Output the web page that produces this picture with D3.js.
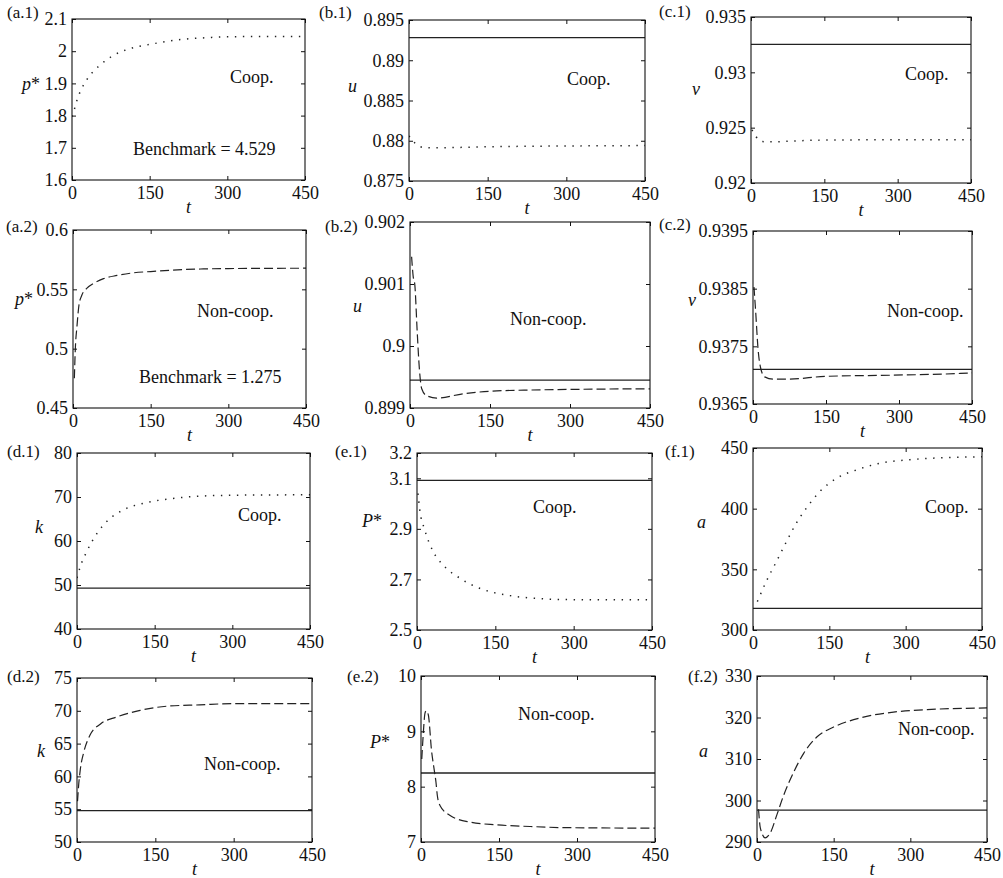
<!DOCTYPE html>
<html><head><meta charset="utf-8">
<script src="https://cdn.jsdelivr.net/npm/d3@7"></script>
<style>
body{margin:0;background:#fff}
svg{display:block}
</style>
</head><body>
<svg id="chart" width="1003" height="878" style="font-family:'Liberation Serif','Times New Roman',Tinos,'DejaVu Serif',serif"></svg>
<script>
// ---------------- DATA ----------------
const xTicks = [0, 150, 300, 450];

// (a.1) p* cooperative
const tA1 = [0, 3, 6, 10, 19, 30, 55, 80, 110, 150, 209, 260, 300, 450];
const pA1 = [1.797, 1.81, 1.828, 1.85, 1.885, 1.915, 1.958, 1.987, 2.007, 2.021, 2.036, 2.042, 2.045, 2.046];
const ticksA1 = [1.6, 1.7, 1.8, 1.9, 2, 2.1];
const benchTextA1 = "Benchmark = 4.529";

// (b.1) u cooperative
const tB1 = [0, 5, 10, 20, 30, 50, 80, 150, 300, 450];
const uB1 = [0.8806, 0.8802, 0.8798, 0.8793, 0.87915, 0.87912, 0.87915, 0.87925, 0.87935, 0.8794];
const benchB1 = 0.8928;
const ticksB1 = [0.875, 0.88, 0.885, 0.89, 0.895];

// (c.1) v cooperative
const tC1 = [2, 10, 24, 40, 60, 100, 150, 250, 350, 450];
const vC1 = [0.9248, 0.9242, 0.92374, 0.92372, 0.92374, 0.92382, 0.92388, 0.9239, 0.9239, 0.9239];
const benchC1 = 0.93253;
const ticksC1 = [0.92, 0.925, 0.93, 0.935];

// (a.2) p* non-cooperative
const tA2 = [2.6, 4.5, 7.7, 11.6, 17, 27, 40, 59, 85, 117, 150, 214, 252, 300, 450];
const pA2 = [0.475, 0.5, 0.519, 0.537, 0.545, 0.551, 0.555, 0.559, 0.5617, 0.5639, 0.565, 0.5667, 0.5672, 0.5675, 0.5678];
const ticksA2 = [0.45, 0.5, 0.55, 0.6];
const benchTextA2 = "Benchmark = 1.275";

// (b.2) u non-cooperative
const tB2 = [3, 6, 9, 13.5, 17.5, 22, 31, 50, 100, 150, 225, 300, 450];
const uB2 = [0.90144, 0.90112, 0.90099, 0.90023, 0.89964, 0.89931, 0.8992, 0.89916, 0.89923, 0.89927, 0.89929, 0.8993, 0.89931];
const benchB2 = 0.89945;
const ticksB2 = [0.899, 0.9, 0.901, 0.902];

// (c.2) v non-cooperative
const tC2 = [2, 5.5, 10.3, 15.8, 24, 41, 69, 151, 288, 426, 450];
const vC2 = [0.93853, 0.9381, 0.93746, 0.93712, 0.93697, 0.93693, 0.93693, 0.93698, 0.937, 0.93703, 0.93704];
const benchC2 = 0.9371;
const ticksC2 = [0.9365, 0.9375, 0.9385, 0.9395];

// (d.1) k cooperative
const tD1 = [0, 6.4, 19, 39, 58, 90, 129, 174, 238, 302, 450];
const kD1 = [51.6, 54.2, 57.65, 61.8, 64.5, 67.1, 68.6, 69.5, 70.2, 70.4, 70.5];
const benchD1 = 49.3;
const ticksD1 = [40, 50, 60, 70, 80];

// (e.1) P* cooperative
const tE1 = [2, 5, 15, 31, 50, 82, 120, 172, 229, 300, 450];
const PE1 = [3.04, 2.98, 2.895, 2.81, 2.757, 2.705, 2.665, 2.638, 2.625, 2.62, 2.62];
const benchE1 = 3.092;
const ticksE1 = [2.5, 2.7, 2.9, 3.1, 3.2];

// (f.1) a cooperative
const tF1 = [8.5, 26, 46, 66, 85, 105, 131, 164, 204, 243, 309, 450];
const aF1 = [323.4, 340, 356.4, 373, 388, 400.5, 414, 425, 432, 436.8, 440.4, 442.8];
const benchF1 = 317.9;
const ticksF1 = [300, 350, 400, 450];

// (d.2) k non-cooperative
const tD2 = [1, 3, 6.4, 12.7, 25, 45, 76, 121, 172, 235, 299, 450];
const kD2 = [56.2, 58.5, 61.1, 63.6, 66.3, 68.0, 69.05, 70.07, 70.7, 70.9, 71.1, 71.1];
const benchD2 = 54.78;
const ticksD2 = [50, 55, 60, 65, 70, 75];

// (e.2) P* non-cooperative
const tE2 = [1.5, 4, 7.7, 10, 14, 20.5, 25, 28.8, 31.4, 36.5, 56, 94, 145, 210, 274, 450];
const PE2 = [8.5, 8.9, 9.33, 9.37, 9.3, 8.63, 8.33, 8.08, 7.84, 7.66, 7.48, 7.36, 7.31, 7.28, 7.26, 7.25];
const benchE2 = 8.247;
const ticksE2 = [7, 8, 9, 10];

// (f.2) a non-cooperative
const tF2 = [3, 6.5, 16, 26, 39, 52, 72, 91, 117, 150, 202, 267, 333, 450];
const aF2 = [297.9, 293.4, 291.0, 292.2, 296.6, 301.2, 306.9, 311.3, 315.3, 317.7, 319.9, 321.3, 321.9, 322.3];
const benchF2 = 297.7;
const ticksF2 = [290, 300, 310, 320, 330];

// ---------------- LAYOUT ----------------
const panels = [
  {tag:"(a.1)", tagPos:[7,18], box:[72,19,305,180], t:tA1, y:pA1, ticks:ticksA1, bench:null, style:"dot",
   ylab:["p","*"], ylabPos:[22,90], note:"Coop.", notePos:[230,83], bText:benchTextA1, bPos:[133,155]},
  {tag:"(b.1)", tagPos:[319,18], box:[409,20,645,181], t:tB1, y:uB1, ticks:ticksB1, bench:benchB1, style:"dot",
   ylab:["u"], ylabPos:[348,92], note:"Coop.", notePos:[567,85]},
  {tag:"(c.1)", tagPos:[659,17], box:[751,17,971,183], t:tC1, y:vC1, ticks:ticksC1, bench:benchC1, style:"dot",
   ylab:["v"], ylabPos:[692,95], note:"Coop.", notePos:[905,80]},
  {tag:"(a.2)", tagPos:[6,232], box:[73,230,306,408], t:tA2, y:pA2, ticks:ticksA2, bench:null, style:"dash",
   ylab:["p","*"], ylabPos:[15,305], note:"Non-coop.", notePos:[197,317], bText:benchTextA2, bPos:[139,383]},
  {tag:"(b.2)", tagPos:[325,232], box:[410,222,650,408], t:tB2, y:uB2, ticks:ticksB2, bench:benchB2, style:"dash",
   ylab:["u"], ylabPos:[353,312], note:"Non-coop.", notePos:[510,325]},
  {tag:"(c.2)", tagPos:[659,230], box:[753,231,972,404], t:tC2, y:vC2, ticks:ticksC2, bench:benchC2, style:"dash",
   ylab:["v"], ylabPos:[688,306], note:"Non-coop.", notePos:[887,317]},
  {tag:"(d.1)", tagPos:[7,457], box:[77,453,310,629], t:tD1, y:kD1, ticks:ticksD1, bench:benchD1, style:"dot",
   ylab:["k"], ylabPos:[35,533], note:"Coop.", notePos:[238,521]},
  {tag:"(e.1)", tagPos:[335,457], box:[417,453,652,630], t:tE1, y:PE1, ticks:ticksE1, bench:benchE1, style:"dot",
   ylab:["P","*"], ylabPos:[362,527], note:"Coop.", notePos:[533,513]},
  {tag:"(f.1)", tagPos:[665,457], box:[753,448,982,630], t:tF1, y:aF1, ticks:ticksF1, bench:benchF1, style:"dot",
   ylab:["a"], ylabPos:[697,528], note:"Coop.", notePos:[925,513]},
  {tag:"(d.2)", tagPos:[7,682], box:[77,678,312,842], t:tD2, y:kD2, ticks:ticksD2, bench:benchD2, style:"dash",
   ylab:["k"], ylabPos:[37,757], note:"Non-coop.", notePos:[204,770]},
  {tag:"(e.2)", tagPos:[347,682], box:[421,676,655,842], t:tE2, y:PE2, ticks:ticksE2, bench:benchE2, style:"dash",
   ylab:["P","*"], ylabPos:[370,748], note:"Non-coop.", notePos:[518,720]},
  {tag:"(f.2)", tagPos:[688,682], box:[757,676,987,842], t:tF2, y:aF2, ticks:ticksF2, bench:benchF2, style:"dash",
   ylab:["a"], ylabPos:[699,757], note:"Non-coop.", notePos:[898,735]}
];

const FS = 18;
const FONT = "'Liberation Serif','Times New Roman',Tinos,'DejaVu Serif',serif";
const svg = d3.select("#chart");

panels.forEach((p, i) => {
  const [x0, y0, x1, y1] = p.box;
  const x = d3.scaleLinear().domain([0, 450]).range([x0, x1]);
  const yDom = d3.extent(p.ticks);
  const y = d3.scaleLinear().domain(yDom).range([y1, y0]);
  const g = svg.append("g");

  const clipId = "clip" + i;
  svg.append("clipPath").attr("id", clipId).append("rect")
    .attr("x", x0).attr("y", y0).attr("width", x1 - x0).attr("height", y1 - y0);

  if (p.bench !== null) {
    g.append("line")
      .attr("x1", x(0)).attr("x2", x(450))
      .attr("y1", y(p.bench)).attr("y2", y(p.bench))
      .attr("stroke", "#222").attr("stroke-width", 1.3);
  }

  const pts = p.t.map((tv, k) => [tv, p.y[k]]);
  const line = d3.line().x(d => x(d[0])).y(d => y(d[1])).curve(d3.curveMonotoneX);
  g.append("path").datum(pts)
    .attr("clip-path", `url(#${clipId})`)
    .attr("d", line).attr("fill", "none")
    .attr("stroke", "#222")
    .attr("stroke-width", p.style === "dot" ? 1.5 : 1.2)
    .attr("stroke-dasharray", p.style === "dot" ? "1.4,6.6" : "9,4");

  const fmt = d => String(d);
  const ax = (gen) => g.append("g").call(gen);
  const bottom = ax(d3.axisBottom(x).tickValues(xTicks).tickFormat(fmt).tickSizeInner(-4).tickSizeOuter(0).tickPadding(6))
    .attr("transform", `translate(0,${y1})`);
  const top = ax(d3.axisTop(x).tickValues(xTicks).tickFormat("").tickSizeInner(-4).tickSizeOuter(0))
    .attr("transform", `translate(0,${y0})`);
  const left = ax(d3.axisLeft(y).tickValues(p.ticks).tickFormat(fmt).tickSizeInner(-4).tickSizeOuter(0).tickPadding(5))
    .attr("transform", `translate(${x0},0)`);
  const right = ax(d3.axisRight(y).tickValues(p.ticks).tickFormat("").tickSizeInner(-4).tickSizeOuter(0))
    .attr("transform", `translate(${x1},0)`);
  [bottom, top, left, right].forEach(a => {
    a.attr("font-family", null).attr("font-size", null);
    a.select(".domain").remove();
    a.selectAll("line").attr("stroke", "#111");
    a.selectAll("text").style("font-family", FONT).style("font-size", FS + "px").attr("fill", "#111");
  });

  g.append("rect").attr("x", x0).attr("y", y0).attr("width", x1 - x0).attr("height", y1 - y0)
    .attr("fill", "none").attr("stroke", "#111").attr("stroke-width", 1.1);

  const txt = (xx, yy, size) => g.append("text").attr("x", xx).attr("y", yy)
    .style("font-family", FONT).style("font-size", size + "px").attr("fill", "#111");

  txt((x0 + x1) / 2, y1 + 33, FS).attr("text-anchor", "middle").style("font-style", "italic").text("t");

  const yt = txt(p.ylabPos[0], p.ylabPos[1], FS);
  yt.append("tspan").style("font-style", "italic").text(p.ylab[0]);
  if (p.ylab[1]) yt.append("tspan").text(p.ylab[1]);

  txt(p.tagPos[0], p.tagPos[1], 17).text(p.tag);
  txt(p.notePos[0], p.notePos[1], FS).text(p.note);
  if (p.bText) txt(p.bPos[0], p.bPos[1], FS).text(p.bText);
});
</script>
</body></html>
